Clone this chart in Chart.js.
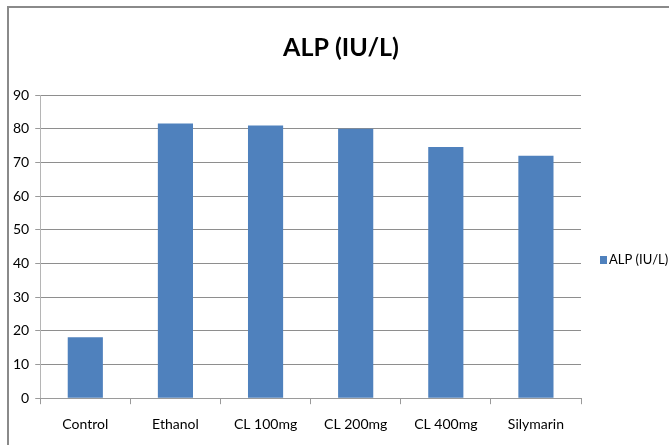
<!DOCTYPE html>
<html>
<head>
<meta charset="utf-8">
<script src="https://cdn.jsdelivr.net/npm/chart.js@4/dist/chart.umd.min.js"></script>
<style>
  html, body { margin: 0; padding: 0; background: #fff; }
  #wrap { position: absolute; left: 0; top: 0; width: 669px; height: 445px; }
  #frame { position: absolute; left: 7px; top: 6px; width: 670px; height: 450px;
           border-left: 2px solid #8a8a8a; border-top: 2px solid #8a8a8a; }
  canvas { position: absolute; left: 0; top: 0; }
</style>
</head>
<body>
<div id="wrap">
  <div id="frame"></div>
  <canvas id="c" width="669" height="445"></canvas>
</div>
<script>
const categories = ["Control", "Ethanol", "CL 100mg", "CL 200mg", "CL 400mg", "Silymarin"];
const seriesName = "ALP (IU/L)";
const alpValues = [18.1, 81.6, 81.0, 80.0, 74.6, 72.0];
const yTicks = [0, 10, 20, 30, 40, 50, 60, 70, 80, 90];

const FONT = "Lato, 'Open Sans', sans-serif";
const TITLE_SIZE = 25;

// Draws the title centred on the whole chart box and the legend to the right
const decorations = {
  id: 'decorations',
  afterDraw(chart) {
    const ctx = chart.ctx;
    const ds = chart.data.datasets[0];
    ctx.save();
    // title
    ctx.fillStyle = '#000';
    ctx.font = "bold " + TITLE_SIZE + "px " + FONT;
    ctx.textAlign = 'center';
    ctx.textBaseline = 'middle';
    ctx.fillText(seriesName, 341, 48);
    // legend
    const x = chart.chartArea.right + 19;
    const y = 260;
    ctx.fillStyle = ds.backgroundColor;
    ctx.fillRect(x, y - 4, 7, 8);
    ctx.fillStyle = '#000';
    ctx.font = "13px " + FONT;
    ctx.textAlign = 'left';
    ctx.fillText(ds.label, x + 9, y);
    ctx.restore();
  }
};

new Chart(document.getElementById('c'), {
  type: 'bar',
  data: {
    labels: categories,
    datasets: [{
      label: seriesName,
      data: alpValues,
      backgroundColor: '#4f81bd',
      borderWidth: 0,
      categoryPercentage: 1.0,
      barPercentage: 0.39
    }]
  },
  plugins: [decorations],
  options: {
    responsive: false,
    animation: false,
    devicePixelRatio: 1,
    layout: { padding: { left: 7, right: 88, top: 10, bottom: 0 } },
    plugins: {
      title: {
        display: true,
        text: seriesName,
        color: 'rgba(0,0,0,0)',
        font: { family: FONT, size: 26, weight: 'bold' },
        padding: { top: 23, bottom: 31 }
      },
      legend: { display: false },
      tooltip: { enabled: false }
    },
    scales: {
      y: {
        min: 0, max: 90,
        afterBuildTicks: (axis) => { axis.ticks = yTicks.map(v => ({ value: v })); },
        ticks: { color: '#000', font: { family: FONT, size: 14 }, padding: 6 },
        grid: { color: '#8e8e8e', lineWidth: 1, drawTicks: true, tickLength: 5,
                tickColor: '#9a9a9a' },
        border: { display: true, color: '#b5b5b5', width: 1 }
      },
      x: {
        ticks: { color: '#000', font: { family: FONT, size: 14 }, padding: 12, maxRotation: 0 },
        grid: { display: true, drawOnChartArea: false, offset: true, tickLength: 6, color: '#9a9a9a' },
        border: { display: true, color: '#9a9a9a', width: 1 }
      }
    }
  }
});
</script>
</body>
</html>
